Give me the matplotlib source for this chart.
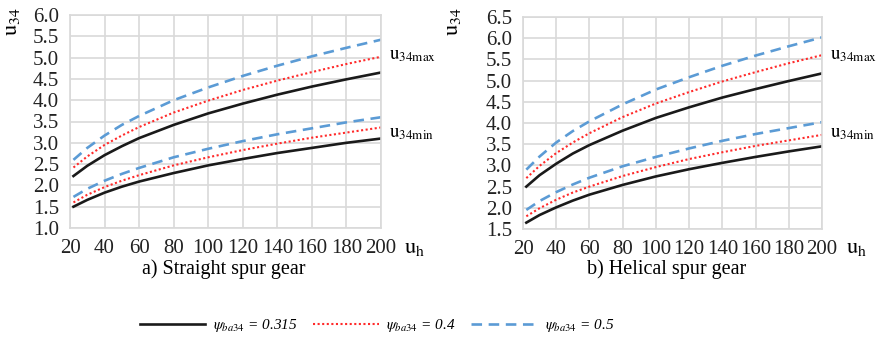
import matplotlib
matplotlib.use("Agg")
import matplotlib.pyplot as plt
from matplotlib.lines import Line2D

plt.rcParams['font.family'] = ['Liberation Serif', 'DejaVu Serif']
plt.rcParams['mathtext.fontset'] = 'stix'

uh = [22, 30, 40, 50, 60, 80, 100, 120, 140, 160, 180, 200]

# a) Straight spur gear
a_max_0315 = [2.22, 2.46, 2.71, 2.92, 3.11, 3.42, 3.69, 3.92, 4.13, 4.32, 4.49, 4.65]
a_max_04   = [2.42, 2.68, 2.95, 3.17, 3.37, 3.71, 3.99, 4.24, 4.46, 4.66, 4.85, 5.02]
a_max_05   = [2.60, 2.88, 3.17, 3.42, 3.63, 4.00, 4.30, 4.57, 4.81, 5.03, 5.23, 5.42]
a_min_0315 = [1.50, 1.66, 1.83, 1.97, 2.09, 2.29, 2.47, 2.62, 2.76, 2.88, 3.00, 3.10]
a_min_04   = [1.60, 1.78, 1.96, 2.11, 2.24, 2.47, 2.66, 2.83, 2.98, 3.12, 3.24, 3.36]
a_min_05   = [1.73, 1.92, 2.11, 2.27, 2.41, 2.66, 2.86, 3.04, 3.20, 3.34, 3.48, 3.60]

# b) Helical spur gear
b_max_0315 = [2.50, 2.77, 3.04, 3.28, 3.48, 3.82, 4.12, 4.37, 4.60, 4.80, 4.99, 5.17]
b_max_04   = [2.70, 2.99, 3.29, 3.54, 3.76, 4.14, 4.46, 4.73, 4.98, 5.20, 5.41, 5.60]
b_max_05   = [2.90, 3.21, 3.54, 3.81, 4.04, 4.44, 4.79, 5.08, 5.35, 5.59, 5.81, 6.02]
b_min_0315 = [1.65, 1.83, 2.01, 2.17, 2.31, 2.54, 2.74, 2.91, 3.06, 3.20, 3.33, 3.45]
b_min_04   = [1.80, 1.99, 2.19, 2.36, 2.50, 2.75, 2.96, 3.15, 3.31, 3.46, 3.59, 3.72]
b_min_05   = [1.95, 2.16, 2.37, 2.55, 2.71, 2.98, 3.20, 3.40, 3.58, 3.74, 3.88, 4.02]

xticks = [20, 40, 60, 80, 100, 120, 140, 160, 180, 200]
a_yticks = [1.0, 1.5, 2.0, 2.5, 3.0, 3.5, 4.0, 4.5, 5.0, 5.5, 6.0]
b_yticks = [1.5, 2.0, 2.5, 3.0, 3.5, 4.0, 4.5, 5.0, 5.5, 6.0, 6.5]

legend_labels = [r'$\psi_{ba34}$ = 0.315', r'$\psi_{ba34}$ = 0.4', r'$\psi_{ba34}$ = 0.5']

BLACK = '#1a1a1a'
RED = '#ff2a2a'
BLUE = '#5b9bd5'
GRID = '#d9d9d9'

styles = [dict(color=BLACK, lw=1.9, ls='-'),
          dict(color=RED, lw=1.5, ls=(0, (1, 1.2))),
          dict(color=BLUE, lw=1.9, ls=(0, (4, 2.5)))]

fig = plt.figure(figsize=(8.8, 3.45), dpi=100)
ax1 = fig.add_axes([70/880, 1-228/345, (381-70)/880, (228-15)/345])
ax2 = fig.add_axes([523/880, 1-229/345, (822-523)/880, (229-17)/345])

def setup(ax, series, yticks):
    for s, st in zip(series, styles*2):
        ax.plot(uh, s, **st)
    ax.set_xlim(20, 200)
    ax.set_ylim(yticks[0], yticks[-1])
    ax.set_xticks(xticks)
    ax.set_yticks(yticks)
    ax.set_yticklabels([f'{v:.1f}' for v in yticks])
    ax.grid(True, color=GRID, lw=1.2)
    ax.set_axisbelow(True)
    for sp in ax.spines.values():
        sp.set_color(GRID)
        sp.set_linewidth(1.2)
    ax.tick_params(length=0, labelsize=15, colors='#222222')
    ax.tick_params(axis='y', pad=8)
    ax.tick_params(axis='x', pad=8)

setup(ax1, [a_max_0315, a_max_04, a_max_05, a_min_0315, a_min_04, a_min_05], a_yticks)
setup(ax2, [b_max_0315, b_max_04, b_max_05, b_min_0315, b_min_04, b_min_05], b_yticks)

def ftext(xp, yp, s, **kw):
    fig.text(xp/880, 1-yp/345, s, **kw)

ftext(13, 22, r'$\mathrm{u}_{34}$', rotation=90, fontsize=16, ha='center', va='center')
ftext(453, 22, r'$\mathrm{u}_{34}$', rotation=90, fontsize=16, ha='center', va='center')
ftext(415, 248, r'$\mathrm{u}_{\mathrm{h}}$', fontsize=16, ha='center', va='center')
ftext(857, 248, r'$\mathrm{u}_{\mathrm{h}}$', fontsize=16, ha='center', va='center')
ftext(389, 55, r'$\mathrm{u}_{34\mathrm{max}}$', fontsize=13.5, ha='left', va='center')
ftext(830, 55, r'$\mathrm{u}_{34\mathrm{max}}$', fontsize=13.5, ha='left', va='center')
ftext(389, 133, r'$\mathrm{u}_{34\mathrm{min}}$', fontsize=13.5, ha='left', va='center')
ftext(830, 133, r'$\mathrm{u}_{34\mathrm{min}}$', fontsize=13.5, ha='left', va='center')
ftext(224, 269, 'a) Straight spur gear', fontsize=14.5, ha='center', va='center')
ftext(667, 269, 'b) Helical spur gear', fontsize=14.5, ha='center', va='center')

handles = [Line2D([], [], **st) for st in styles]
fig.legend(handles, legend_labels, loc='center', bbox_to_anchor=(377/880, 1-326/345),
           ncol=3, frameon=False, prop={'style': 'italic', 'size': 11},
           handlelength=4.3, columnspacing=1.0, handletextpad=0.5)

fig.savefig('out.png', dpi=100)
